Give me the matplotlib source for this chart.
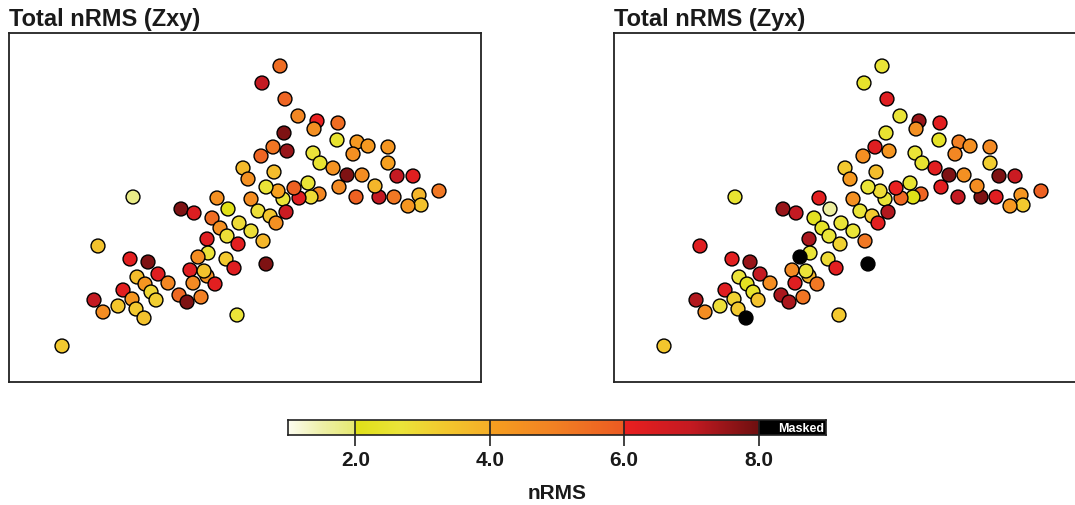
import numpy as np
import matplotlib
matplotlib.use("Agg")
import matplotlib.pyplot as plt
from matplotlib.colors import ListedColormap, Normalize
from matplotlib.patches import Rectangle

plt.rcParams['font.family'] = ['Liberation Sans', 'DejaVu Sans']

# ---- data: station positions (arbitrary km) and nRMS values ----
x_km = [271, 253, 276, 289, 308, 305, 329, 275, 328, 348, 359, 379, 344, 264, 278, 252,
        304, 311, 324, 338, 353, 379, 388, 404, 430, 410, 412, 399, 385, 370, 366, 347,
        330, 310, 299, 302, 290, 285, 274, 277, 269, 257, 265, 234, 239, 242, 249, 261,
        267, 254, 257, 242, 230, 219, 208, 203, 211, 218, 229, 198, 199, 189, 217, 225,
        181, 198, 195, 184, 206, 170, 178, 192, 228, 121, 139, 149, 159, 128, 136, 142,
        147, 114, 123, 109, 127, 135, 85, 94, 89, 124, 172, 185, 53]
y_km = [316, 299, 283, 266, 261, 253, 259, 249, 242, 240, 236, 235, 228, 235, 231, 226,
        229, 219, 214, 207, 207, 219, 206, 206, 191, 187, 177, 176, 185, 185, 196, 185,
        195, 188, 199, 185, 184, 194, 183, 170, 191, 195, 210, 214, 203, 183, 171, 166,
        159, 141, 118, 151, 159, 173, 184, 164, 154, 146, 138, 143, 129, 125, 123, 114,
        112, 106, 111, 99, 98, 87, 80, 85, 67, 123, 120, 108, 99, 105, 98, 90,
        82, 92, 83, 76, 73, 64, 82, 70, 136, 185, 173, 169, 36]
nrms_zxy = [5.5, 7.0, 5.7, 4.8, 6.0, 4.5, 5.5, 7.8, 2.5, 4.2, 4.2, 4.3, 4.5, 5.3, 7.5, 5.7,
            2.7, 2.5, 4.4, 7.8, 4.6, 4.0, 7.0, 6.2, 5.2, 3.8, 3.5, 4.3, 5.2, 7.0, 3.8, 5.8,
            4.7, 4.8, 2.6, 2.9, 6.3, 5.8, 2.6, 6.8, 4.0, 2.6, 3.6, 3.7, 4.5, 4.6, 2.8, 3.4,
            4.5, 3.8, 7.8, 2.8, 2.9, 2.0, 4.5, 5.5, 4.5, 2.8, 6.2, 6.3, 2.7, 4.6, 3.3, 6.3,
            6.3, 4.5, 3.5, 4.7, 6.2, 5.6, 7.8, 5.0, 2.7, 6.2, 7.8, 6.3, 4.8, 3.6, 4.3, 3.0,
            3.2, 6.2, 4.3, 3.4, 3.3, 3.5, 7.0, 4.6, 3.5, 1.8, 7.8, 6.4, 3.3]
nrms_zyx = [2.6, 2.4, 6.3, 2.6, 7.5, 4.5, 6.2, 2.5, 2.3, 5.0, 4.5, 4.7, 4.8, 6.3, 4.3, 4.5,
            2.6, 2.5, 6.2, 7.8, 4.5, 3.2, 7.8, 6.8, 5.8, 4.3, 3.3, 4.2, 6.3, 7.8, 4.6, 7.0,
            6.2, 5.7, 2.5, 2.0, 5.6, 6.0, 2.6, 7.2, 2.9, 2.6, 3.6, 3.3, 4.2, 4.5, 2.6, 3.3,
            6.2, 5.2, np.nan, 2.6, 2.6, 1.6, 6.2, 2.2, 2.3, 2.6, 3.1, 7.3, 2.6, np.nan, 2.9, 6.2,
            4.7, 3.8, 2.7, 6.3, 5.2, 7.3, 7.3, 5.3, 3.3, 6.2, 7.5, 7.0, 4.6, 2.7, 2.2, 2.4,
            3.5, 6.3, 3.1, 2.8, 3.3, np.nan, 7.2, 4.6, 6.3, 2.5, 7.5, 7.0, 3.4]
titles = ["Total nRMS (Zxy)", "Total nRMS (Zyx)"]
cbar_ticks = [2.0, 4.0, 6.0, 8.0]
cbar_label = "nRMS"
vmin, vmax = 1.0, 8.0

# ---- segmented colormap (jumps at 2, 4, 6) ----
segments = [
    (1.0, 2.0, ["#fdfdf0", "#eef0a8", "#e6e870"]),
    (2.0, 4.0, ["#e0e018", "#ebe43a", "#f3c82e", "#f5ae28"]),
    (4.0, 6.0, ["#f6a020", "#f28024", "#ec5a22"]),
    (6.0, 8.0, ["#ea2020", "#c41a22", "#6e1010"]),
]
N = 512
vals = np.linspace(vmin, vmax, N)
rgb = np.zeros((N, 3))
for lo, hi, cols in segments:
    stops = np.linspace(lo, hi, len(cols))
    carr = np.array([matplotlib.colors.to_rgb(c) for c in cols])
    m = (vals >= lo) & (vals <= hi)
    for k in range(3):
        rgb[m, k] = np.interp(vals[m], stops, carr[:, k])
cmap = ListedColormap(rgb)
cmap.set_bad("black")
norm = Normalize(vmin, vmax)

W, H = 1075, 506
fig = plt.figure(figsize=(W / 100, H / 100), dpi=100)

def px_axes(l, t, w, h):
    return fig.add_axes([l / W, 1 - (t + h) / H, w / W, h / H])

panels = [(9, nrms_zxy, (0, 472)), (614, nrms_zyx, (3, 475))]
for (left, vals_, xl), title in zip(panels, titles):
    ax = px_axes(left, 34, 472, 349)
    ax.scatter(x_km, y_km, c=np.array(vals_, dtype=float), cmap=cmap, norm=norm,
               s=100, edgecolors="black", linewidths=1.0, plotnonfinite=True, zorder=3)
    ax.set_xlim(*xl)
    ax.set_ylim(0, 349)
    ax.set_xticks([])
    ax.set_yticks([])
    for sp in ax.spines.values():
        sp.set_linewidth(1.3)
        sp.set_color("#222222")
    ax.annotate(title, xy=(0, 1), xycoords="axes fraction", xytext=(0, 2),
                textcoords="offset points", ha="left", va="bottom",
                fontsize=17, fontweight="bold", color="#1a1a1a")

# ---- colorbar ----
cax = px_axes(288, 421, 538, 15)
grad = np.linspace(vmin, vmax, N).reshape(1, -1)
cax.imshow(grad, cmap=cmap, norm=norm, aspect="auto", extent=[vmin, vmax, 0, 1])
cax.add_patch(Rectangle((vmax, 0), 1.0, 1, color="black"))
cax.text(vmax + 0.97, 0.5, "Masked", color="white", fontsize=9, fontweight="bold",
         ha="right", va="center")
cax.set_xlim(vmin, vmax + 1.0)
cax.set_ylim(0, 1)
cax.set_yticks([])
for t in cbar_ticks:
    cax.plot([t, t], [0, 1], color="#222222", lw=1.2)
cax.set_xticks(cbar_ticks)
cax.set_xticklabels([f"{t:.1f}" for t in cbar_ticks], fontsize=15, fontweight="bold",
                    color="#1a1a1a")
cax.tick_params(axis="x", direction="out", length=8, width=1.2, pad=3, color="#222222")
cax.set_xlabel(cbar_label, fontsize=15, fontweight="bold", labelpad=10, color="#1a1a1a")
for sp in cax.spines.values():
    sp.set_linewidth(1.2)
    sp.set_color("#222222")

fig.savefig("out.png", dpi=100)
